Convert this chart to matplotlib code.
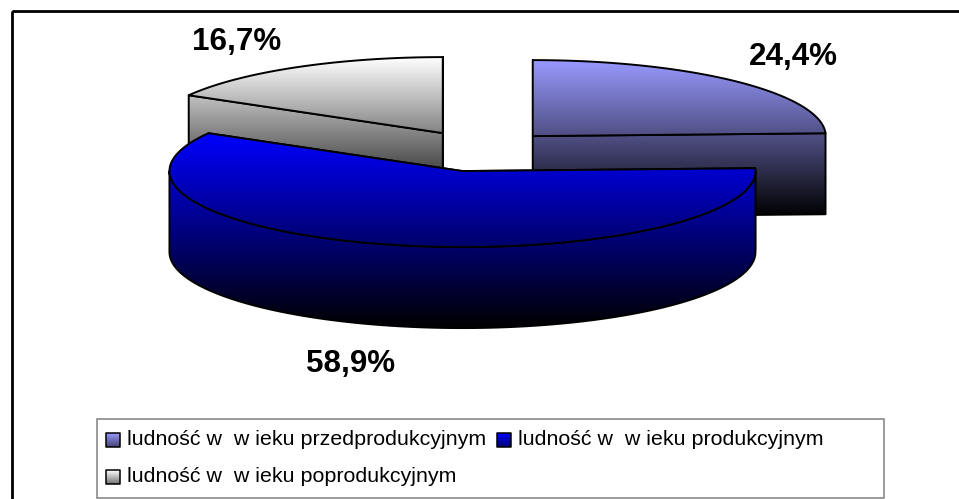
import numpy as np
import matplotlib
matplotlib.use("Agg")
import matplotlib.pyplot as plt
from matplotlib.path import Path
from matplotlib.patches import PathPatch, Rectangle
from matplotlib.colors import to_rgb

plt.rcParams['font.family'] = ['Liberation Sans', 'DejaVu Sans']

values = [24.4, 58.9, 16.7]
value_labels = ['24,4%', '58,9%', '16,7%']
categories = ['ludność w  w ieku przedprodukcyjnym',
              'ludność w  w ieku produkcyjnym',
              'ludność w  w ieku poprodukcyjnym']
colors = ['#9999FF', '#0000FF', '#FFFFFF']

W, H = 959, 499
CX, CY, RX, RY, DEPTH = 480.5, 151, 293, 76, 81
EXPLODE_X, EXPLODE_Y = 0.257, 0.272
LW = 1.4

fig = plt.figure(figsize=(W / 100, H / 100), dpi=100)
ax = fig.add_axes([0, 0, 1, 1])
ax.set_xlim(0, W)
ax.set_ylim(H, 0)
ax.axis('off')

z = [10]


def gradient(base, end_factor=0.0):
    base = np.array(to_rgb(base))
    t = np.linspace(0, 1, 256)[:, None]
    return (base * (1 - t) + base * end_factor * t)[:, None, :]


def piece(pts, grad, extent, lw=LW, edge='black'):
    pts = np.asarray(pts)
    path = Path(np.vstack([pts, pts[:1]]), closed=True)
    z[0] += 1
    patch = PathPatch(path, fc='none', ec=edge, lw=lw, zorder=z[0] + 0.5, joinstyle='round')
    ax.add_patch(patch)
    im = ax.imshow(grad, extent=extent, aspect='auto', zorder=z[0], interpolation='bilinear')
    im.set_clip_path(patch)


def ell(c, deg):
    r = np.radians(deg)
    return np.column_stack([c[0] + RX * np.sin(r), c[1] - RY * np.cos(r)])


total = sum(values)
angles = np.cumsum([0] + values) / total * 360
wedges = []
for i, v in enumerate(values):
    a0, a1 = angles[i], angles[i + 1]
    mid = np.radians((a0 + a1) / 2)
    c = (CX + EXPLODE_X * RX * np.sin(mid), CY - EXPLODE_Y * RY * np.cos(mid))
    wedges.append((i, a0, a1, c))

# back wedges first, the front wedge on top
for i, a0, a1, c in sorted(wedges, key=lambda w: w[3][1]):
    arc = ell(c, np.linspace(a0, a1, 160))
    top = np.vstack([[c], arc])
    ymin, ymax = top[:, 1].min(), top[:, 1].max() + DEPTH
    ext = [top[:, 0].min() - 3, top[:, 0].max() + 3, ymax, ymin]
    g = gradient(colors[i])
    shift = np.array([0, DEPTH])
    for edge_pt in (arc[0], arc[-1]):
        q = np.array([c, edge_pt, edge_pt + shift, np.array(c) + shift])
        piece(q, g, ext)
    lo, hi = max(a0, 90), min(a1, 270)
    if hi > lo:
        rim = ell(c, np.linspace(lo, hi, 120))
        piece(np.vstack([rim, rim[::-1] + shift]), g, ext)
    piece(top, g, ext)

# chart frame, running past the crop on the right and bottom
ax.add_patch(Rectangle((12, 11), W + 20, H + 20, fc='none', ec='black', lw=2.0, zorder=1))

# value labels
label_pos = [(793, 65), (351, 372), (237, 50)]
for (x, y), s in zip(label_pos, value_labels):
    ax.text(x, y, s, fontsize=22.6, fontweight='bold', ha='center', va='baseline',
            color='black', zorder=50)

# legend
ax.add_patch(Rectangle((97, 419), 787, 79, fc='white', ec='#808080', lw=1.1, zorder=40))
leg_sq = [(106, 433), (497, 433), (106, 470)]
leg_txt = [(127, 445), (518, 445), (127, 482)]
for i, ((sx, sy), (tx, ty)) in enumerate(zip(leg_sq, leg_txt)):
    z[0] = 40 + i * 2
    ex = [sx, sx + 14, sy + 14, sy]
    piece([(sx, sy), (sx + 14, sy), (sx + 14, sy + 14), (sx, sy + 14)],
          gradient(colors[i], 0.45), ex, lw=1.1)
    ax.text(tx, ty, categories[i], fontsize=15.4, ha='left', va='baseline',
            color='black', zorder=60)

ax.set_xlim(0, W)
ax.set_ylim(H, 0)
fig.savefig('out.png', dpi=100)
